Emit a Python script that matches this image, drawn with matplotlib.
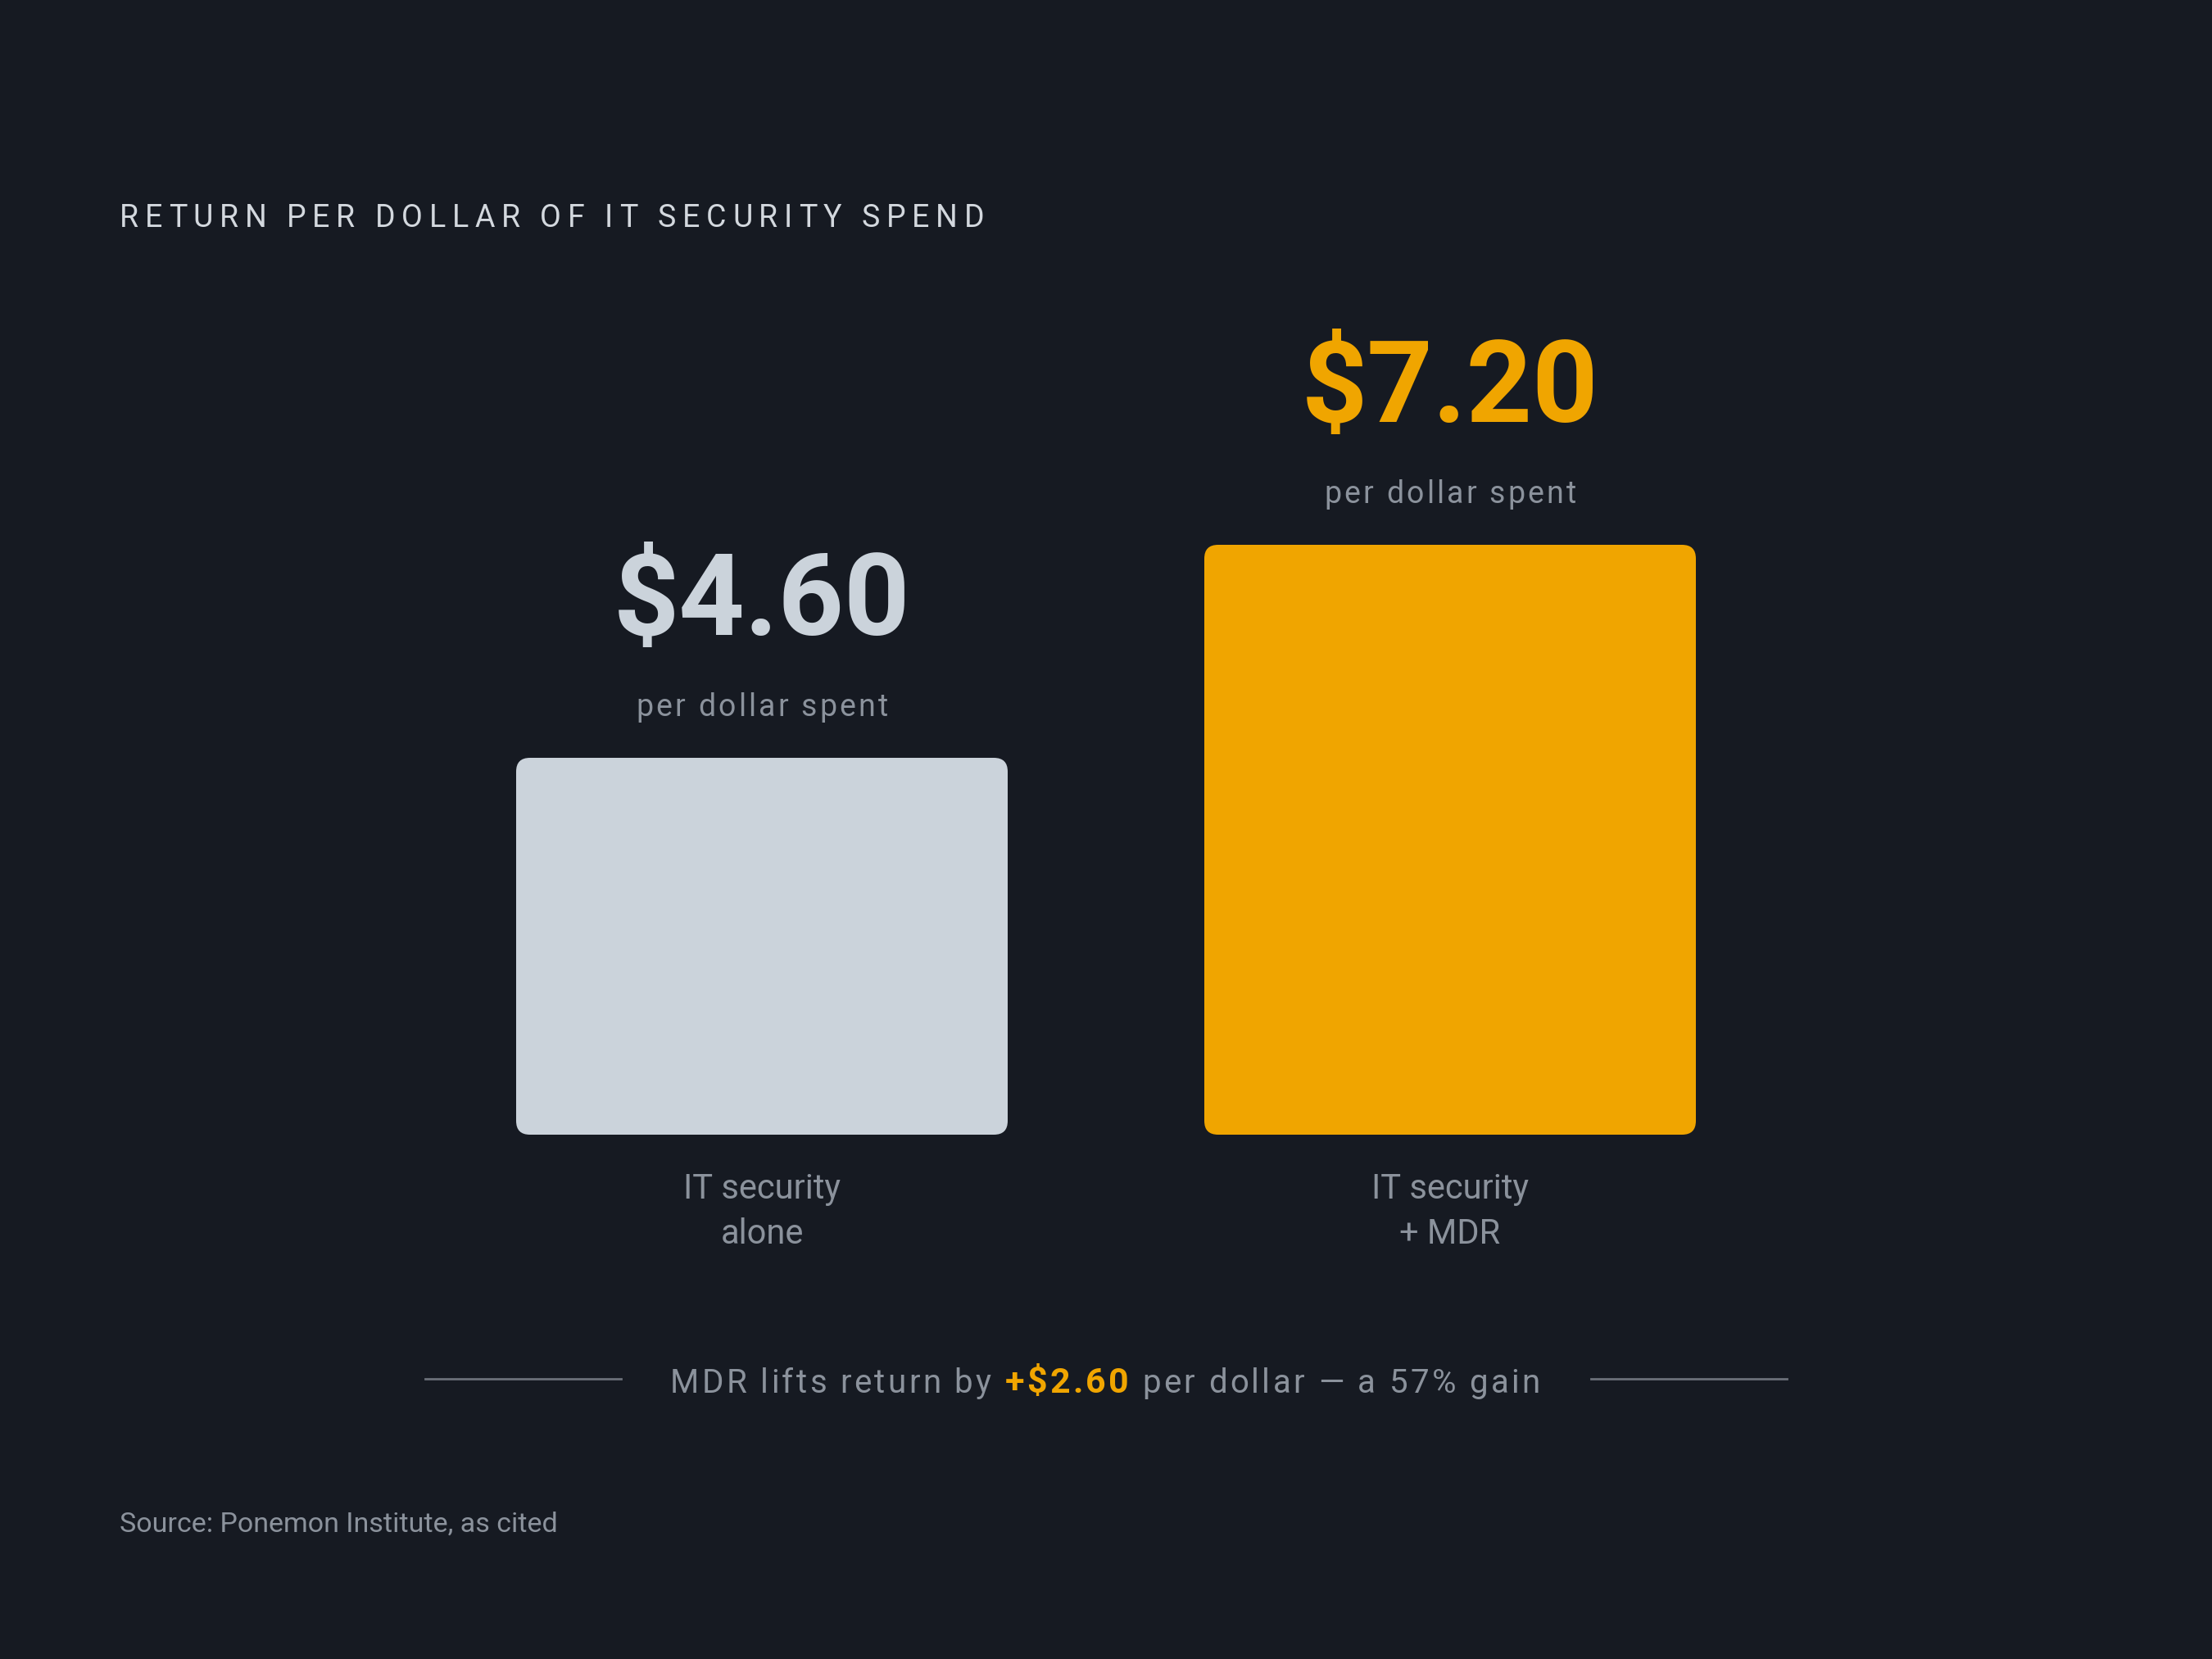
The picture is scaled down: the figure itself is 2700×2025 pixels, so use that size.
import matplotlib
matplotlib.use("Agg")
import matplotlib.pyplot as plt
from matplotlib.patches import FancyBboxPatch
from matplotlib.transforms import IdentityTransform

# data
categories = [["IT security", "alone"], ["IT security", "+ MDR"]]
values = [4.60, 7.20]
value_labels = ["$4.60", "$7.20"]
sub_label = "per dollar spent"
title = "RETURN PER DOLLAR OF IT SECURITY SPEND"
source = "Source: Ponemon Institute, as cited"

gain = values[1] - values[0]
pct = gain / values[0] * 100

# colours
BG = "#161a22"
LIGHT = "#cbd3db"
GOLD = "#f0a500"
GREY = "#8b929c"
TITLE_C = "#d3d8de"
RULE = "#6b7079"
bar_colors = [LIGHT, GOLD]
label_colors = [LIGHT, GOLD]

plt.rcParams['font.family'] = ['Roboto', 'DejaVu Sans']

W, H = 2700, 2025
fig = plt.figure(figsize=(W / 100, H / 100), dpi=100, facecolor=BG)
renderer = fig.canvas.get_renderer()


def text_w(s, **kw):
    # width incl. spaces, using bar guards
    t = fig.text(0, 0, "|" + s + "|", **kw)
    w1 = t.get_window_extent(renderer).width
    t.remove()
    t = fig.text(0, 0, "||", **kw)
    w2 = t.get_window_extent(renderer).width
    t.remove()
    return w1 - w2


def tracked(x, y, segs, track=0.0, ha="left", width=None):
    # x, y in display px (origin bottom-left), baseline
    offs = []
    pos = 0.0
    for s, kw in segs:
        for k, c in enumerate(s):
            offs.append((pos + text_w(s[:k], **kw), c, kw))
        pos += text_w(s, **kw)
    n = len(offs)
    if width is not None:
        track = (width - pos) / (n - 1)
    total = pos + track * (n - 1)
    x0 = x - total / 2 if ha == "center" else x
    for k, (o, c, kw) in enumerate(offs):
        if c == " ":
            continue
        fig.text(x0 + o + k * track, y, c, transform=IdentityTransform(),
                 ha="left", va="baseline", **kw)


def py(v):
    return H - v


# bars
ax = fig.add_axes([480 / W, 640 / H, 1740 / W, 900 / H])
ax.set_facecolor(BG)
x_lo = -450 / 840
x_hi = 1290 / 840
ax.set_xlim(x_lo, x_hi)
ax.set_ylim(0, 9)
ax.axis("off")

bar_w = 600 / 840
aspect = (9 / 900) / ((x_hi - x_lo) / 1740)
for i, v in enumerate(values):
    ax.add_patch(FancyBboxPatch((i - bar_w / 2, 0), bar_w, v,
                                boxstyle="round,pad=0,rounding_size=0.02",
                                mutation_aspect=aspect,
                                fc=bar_colors[i], ec="none"))
    ax.annotate(value_labels[i], xy=(i, v), xytext=(0, 108),
                textcoords="offset points", ha="center", va="baseline",
                fontsize=101, fontweight="bold", color=label_colors[i])
    cx, top = ax.transData.transform((i, v))
    tracked(cx, top + 51, [(sub_label, dict(fontsize=27, color=GREY))],
            ha="center", width=308)
    for j, line in enumerate(categories[i]):
        ax.annotate(line, xy=(i, 0), xytext=(0, -56 - 39.5 * j),
                    textcoords="offset points", ha="center", va="baseline",
                    fontsize=30, color=GREY)

# title
tracked(146, py(277), [(title, dict(fontsize=27, color=TITLE_C))], width=1055)

# bottom note
note = [("MDR lifts return by ", dict(fontsize=29, color=GREY)),
        (f"+${gain:.2f}", dict(fontsize=31, color=GOLD, fontweight="bold")),
        (f" per dollar \u2014 a {pct:.0f}% gain", dict(fontsize=29, color=GREY))]
tracked(1349, py(1700), note, ha="center", width=1062)
for x0, x1 in [(519, 758), (1942, 2181)]:
    fig.add_artist(plt.Line2D([x0 / W, x1 / W], [1 - 1683 / H] * 2,
                              color=RULE, lw=2))

# source
fig.text(146 / W, 1 - 1870 / H, source, fontsize=24.5, color=GREY,
         ha="left", va="baseline")

fig.savefig("out.png", dpi=100, facecolor=BG)
